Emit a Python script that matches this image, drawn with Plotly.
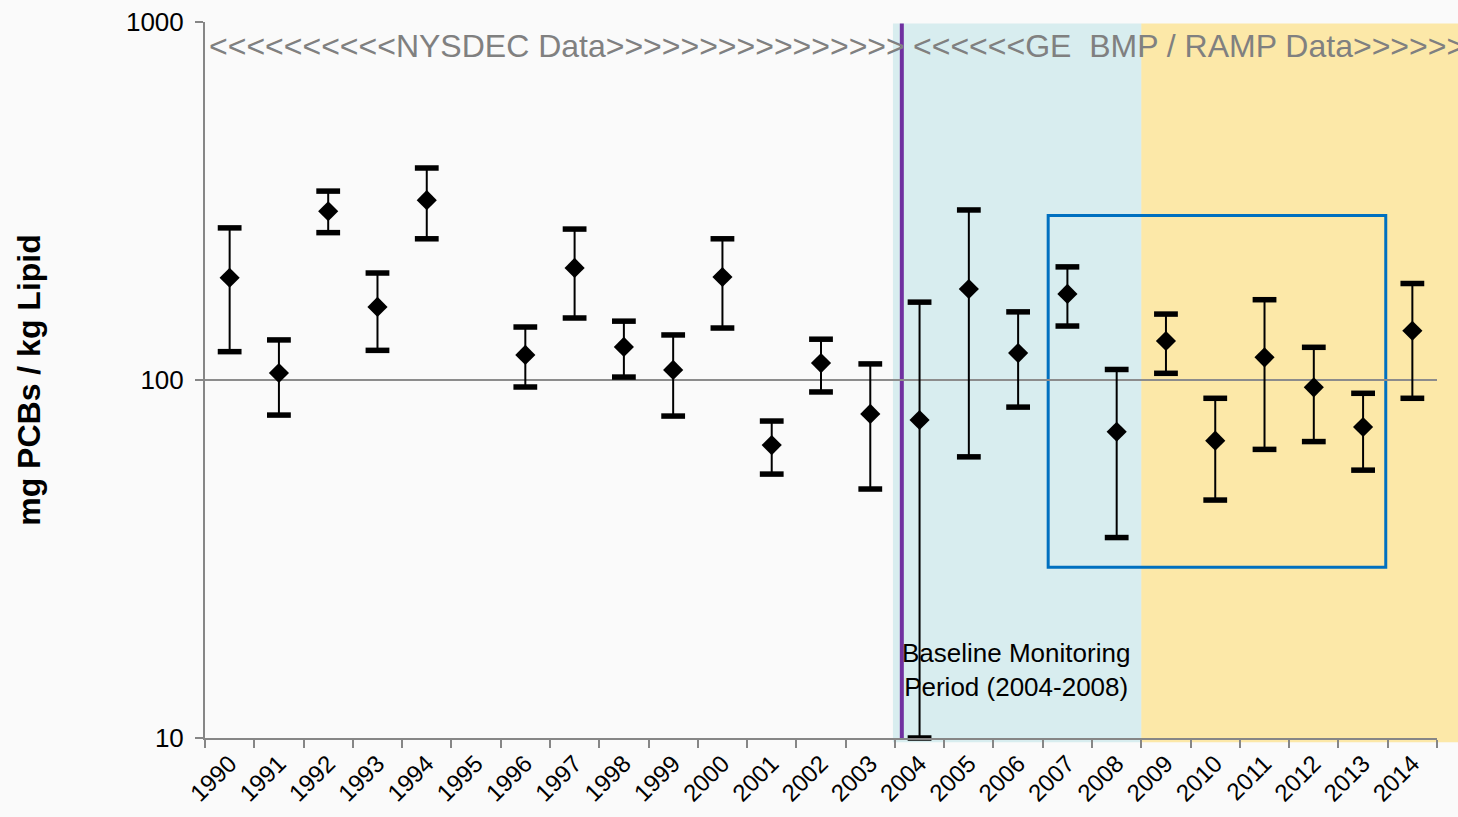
import plotly.graph_objects as go

years = [str(y) for y in range(1990, 2015)]
center = [193, 104.6, 296, 160, 318, None, 117.5, 205.6, 123.7, 106.7, 194, 65.8, 111.5, 80.4,
          77.3, 179.6, 118.9, 174, 71.7, 128.5, 67.7, 115.7, 95.4, 73.9, 137.3]
upper = [266, 129.4, 337, 199, 391, None, 140.6, 264, 146, 133.6, 248, 76.8, 130, 110.9,
         165, 298.5, 155, 207, 107, 152.8, 88.9, 167.6, 123.4, 91.8, 186]
lower = [120, 79.8, 258, 121, 248, None, 95.6, 149, 101.9, 79.3, 139.7, 54.6, 92.6, 49.6,
         10, 61, 84, 141.5, 36.3, 104.4, 46.2, 64, 67.3, 56, 88.9]

ytick_vals = [10, 100, 1000]
ytick_text = ["10", "100", "1000"]

# shaded periods (category index units)
baseline_start, baseline_end = 13.46, 18.5
purple_x = 13.64
box_x0, box_x1 = 16.61, 23.46
box_y0, box_y1 = 30, 288

n = len(years)
err_plus = [None if c is None else u - c for c, u in zip(center, upper)]
err_minus = [None if c is None else c - l for c, l in zip(center, lower)]

fig = go.Figure()

# stems
fig.add_trace(go.Scatter(
    x=years, y=center, mode="markers",
    marker=dict(size=1, color="rgba(0,0,0,0)"),
    error_y=dict(type="data", symmetric=False, array=err_plus, arrayminus=err_minus,
                 color="black", thickness=2, width=0),
    showlegend=False, hoverinfo="skip", cliponaxis=False))

# caps
cap_x = [y for y, u in zip(years, upper) if u is not None] + [y for y, l in zip(years, lower) if l is not None]
cap_y = [u for u in upper if u is not None] + [l for l in lower if l is not None]
fig.add_trace(go.Scatter(
    x=cap_x, y=cap_y, mode="markers",
    marker=dict(symbol="line-ew", size=17, line=dict(width=5.5, color="black"), color="black"),
    showlegend=False, cliponaxis=False))

# diamonds
fig.add_trace(go.Scatter(
    x=years, y=center, mode="markers",
    marker=dict(symbol="diamond", size=15.5, color="black", line=dict(width=0)),
    showlegend=False))

shapes = [
    dict(type="rect", xref="x", yref="paper", x0=baseline_start, x1=baseline_end, y0=-0.006, y1=0.998,
         fillcolor="rgba(165,218,222,0.40)", line=dict(width=0), layer="below"),
    dict(type="rect", xref="x", yref="y", x0=box_x0, x1=box_x1, y0=box_y0, y1=box_y1,
         fillcolor="rgba(0,0,0,0)", line=dict(color="#0070C0", width=3), layer="below"),
    dict(type="line", xref="x", yref="paper", x0=purple_x, x1=purple_x, y0=0, y1=0.998,
         line=dict(color="#7030A0", width=4), layer="below"),
    dict(type="rect", xref="paper", yref="paper", x0=(baseline_end + 0.5) / n, x1=1.03, y0=-0.006, y1=0.998,
         fillcolor="rgba(255,205,45,0.40)", line=dict(width=0), layer="below"),
]

annotations = [
    dict(text="<<<<<<<<<<NYSDEC Data>>>>>>>>>>>>>>>>", xref="paper", yref="paper",
         x=0.0015, y=0.967, xanchor="left", yanchor="middle", showarrow=False,
         font=dict(family="Liberation Sans, Arial", size=32, color="#808080")),
    dict(text="<<<<<<GE  BMP / RAMP Data>>>>>>", xref="paper", yref="paper",
         x=0.573, y=0.967, xanchor="left", yanchor="middle", showarrow=False,
         font=dict(family="Liberation Sans, Arial", size=32, color="#808080")),
    dict(text="Baseline Monitoring<br>Period (2004-2008)", xref="x", yref="paper",
         x=15.96, y=0.095, xanchor="center", yanchor="middle", showarrow=False, align="center",
         font=dict(family="Liberation Sans, Arial", size=26, color="black")),
    dict(text="<b>mg PCBs / kg Lipid</b>", xref="paper", yref="paper",
         x=-0.143, y=0.5, xanchor="center", yanchor="middle", showarrow=False, textangle=-90,
         font=dict(family="Liberation Sans, Arial", size=32, color="black")),
]

fig.update_layout(
    width=1458, height=817,
    margin=dict(l=205, r=21, t=22, b=79, autoexpand=False),
    paper_bgcolor="#FAFAFA", plot_bgcolor="rgba(0,0,0,0)",
    shapes=shapes, annotations=annotations,
    font=dict(family="Liberation Sans, Arial", color="black"),
    xaxis=dict(type="category", categoryorder="array", categoryarray=years,
               range=[-0.5, n - 0.5], tickson="boundaries", ticks="outside", ticklen=8,
               tickcolor="#868686", tickwidth=2, showline=True, linecolor="#868686", linewidth=2,
               showgrid=False, tickangle=-45, automargin=False, tickfont=dict(size=24, color="black")),
    yaxis=dict(type="log", range=[1, 3], tickvals=ytick_vals, ticktext=ytick_text,
               ticks="outside", ticklen=8, tickcolor="#868686", tickwidth=2,
               showline=True, linecolor="#868686", linewidth=2, automargin=False,
               showgrid=True, gridcolor="#8C8C8C", gridwidth=1.5, ticklabelstandoff=6,
               tickfont=dict(size=26, color="black")),
)

fig.write_html("out.html")
